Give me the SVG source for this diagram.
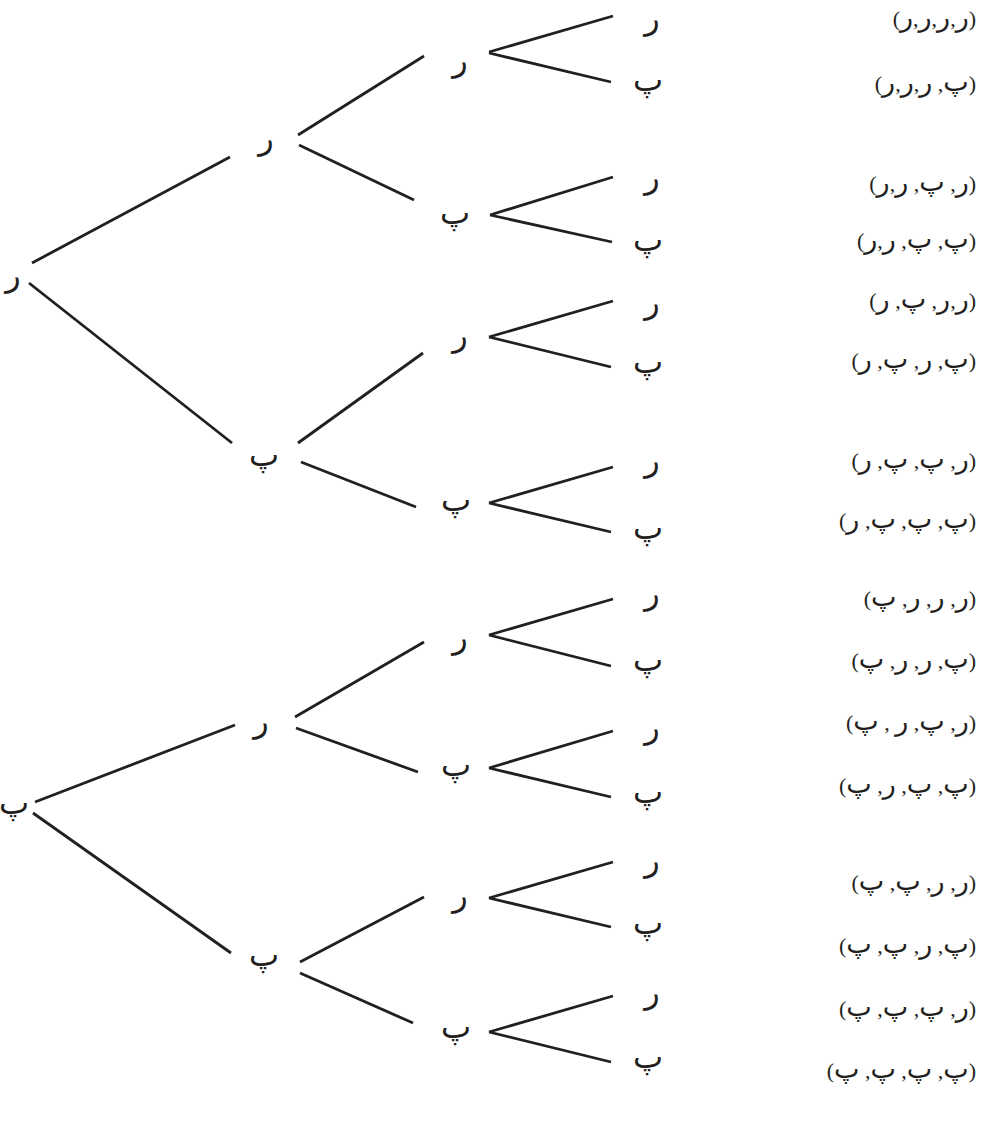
<svg xmlns="http://www.w3.org/2000/svg" width="984" height="1134" viewBox="0 0 984 1134">
<style>
.bg{fill:#ffffff}
.edge{stroke:#231f20;stroke-width:2.8;stroke-linecap:butt;fill:none}
.lbl{font-family:"DejaVu Sans",sans-serif;font-size:32px;fill:#231f20;text-anchor:middle}
.tup{font-family:"Liberation Serif","DejaVu Sans",serif;font-size:22px;fill:#231f20;text-anchor:end}
.a{font-family:"DejaVu Sans",sans-serif;font-size:27px}
</style>
<rect class="bg" x="0" y="0" width="984" height="1134"/>
<g id="connectors">
<line class="edge" x1="32" y1="263" x2="230" y2="157"/>
<line class="edge" x1="29" y1="283" x2="232" y2="443"/>
<line class="edge" x1="298" y1="135" x2="424" y2="56"/>
<line class="edge" x1="299" y1="145" x2="414" y2="200"/>
<line class="edge" x1="298" y1="443" x2="423" y2="353"/>
<line class="edge" x1="301" y1="462" x2="416" y2="507"/>
<line class="edge" x1="489" y1="52" x2="613" y2="16"/>
<line class="edge" x1="489" y1="53" x2="611" y2="82"/>
<line class="edge" x1="490" y1="215" x2="613" y2="177"/>
<line class="edge" x1="490" y1="215" x2="612" y2="242"/>
<line class="edge" x1="489" y1="337" x2="613" y2="301"/>
<line class="edge" x1="489" y1="337" x2="611" y2="367"/>
<line class="edge" x1="489" y1="503" x2="613" y2="467"/>
<line class="edge" x1="489" y1="503" x2="611" y2="532"/>
<line class="edge" x1="35" y1="802" x2="235" y2="725"/>
<line class="edge" x1="33" y1="813" x2="231" y2="953"/>
<line class="edge" x1="295" y1="717" x2="424" y2="642"/>
<line class="edge" x1="296" y1="728" x2="418" y2="772"/>
<line class="edge" x1="489" y1="635" x2="613" y2="599"/>
<line class="edge" x1="489" y1="635" x2="611" y2="666"/>
<line class="edge" x1="489" y1="768" x2="613" y2="731"/>
<line class="edge" x1="489" y1="768" x2="611" y2="797"/>
<line class="edge" x1="300" y1="962" x2="424" y2="897"/>
<line class="edge" x1="300" y1="973" x2="413" y2="1023"/>
<line class="edge" x1="489" y1="898" x2="613" y2="862"/>
<line class="edge" x1="489" y1="898" x2="611" y2="927"/>
<line class="edge" x1="489" y1="1032" x2="613" y2="996"/>
<line class="edge" x1="489" y1="1032" x2="611" y2="1062"/>
</g>
<g id="root-r"><text class="lbl" x="13" y="286">ر</text></g>
<g id="root-p"><text class="lbl" x="14" y="814">پ</text></g>
<g id="n-r"><text class="lbl" x="266" y="149">ر</text></g>
<g id="n-p"><text class="lbl" x="264" y="466">پ</text></g>
<g id="n-pr"><text class="lbl" x="261" y="732">ر</text></g>
<g id="n-pp"><text class="lbl" x="264" y="966">پ</text></g>
<g id="n-rr"><text class="lbl" x="460" y="71">ر</text></g>
<g id="n-rp"><text class="lbl" x="455" y="224">پ</text></g>
<g id="n-pr2"><text class="lbl" x="460" y="346">ر</text></g>
<g id="n-pp2"><text class="lbl" x="456" y="511">پ</text></g>
<g id="n-prr"><text class="lbl" x="460" y="648">ر</text></g>
<g id="n-prp"><text class="lbl" x="456" y="776">پ</text></g>
<g id="n-ppr"><text class="lbl" x="460" y="906">ر</text></g>
<g id="n-ppp"><text class="lbl" x="456" y="1038">پ</text></g>
<g id="leaf-1"><text class="lbl" x="652" y="29">ر</text></g>
<g id="leaf-2"><text class="lbl" x="648" y="91">پ</text></g>
<g id="leaf-3"><text class="lbl" x="652" y="188">ر</text></g>
<g id="leaf-4"><text class="lbl" x="648" y="251">پ</text></g>
<g id="leaf-5"><text class="lbl" x="652" y="313">ر</text></g>
<g id="leaf-6"><text class="lbl" x="648" y="373">پ</text></g>
<g id="leaf-7"><text class="lbl" x="652" y="471">ر</text></g>
<g id="leaf-8"><text class="lbl" x="648" y="539">پ</text></g>
<g id="leaf-9"><text class="lbl" x="652" y="604">ر</text></g>
<g id="leaf-10"><text class="lbl" x="648" y="671">پ</text></g>
<g id="leaf-11"><text class="lbl" x="652" y="738">ر</text></g>
<g id="leaf-12"><text class="lbl" x="648" y="803">پ</text></g>
<g id="leaf-13"><text class="lbl" x="652" y="871">ر</text></g>
<g id="leaf-14"><text class="lbl" x="648" y="934">پ</text></g>
<g id="leaf-15"><text class="lbl" x="652" y="1003">ر</text></g>
<g id="leaf-16"><text class="lbl" x="648" y="1068">پ</text></g>
<g id="outcomes">
<text class="tup" x="976" y="26">(<tspan class="a">ر</tspan>,<tspan class="a">ر</tspan>,<tspan class="a">ر</tspan>,<tspan class="a">ر</tspan>)</text>
<text class="tup" x="976" y="91">(<tspan class="a">پ</tspan>, <tspan class="a">ر</tspan>,<tspan class="a">ر</tspan>,<tspan class="a">ر</tspan>)</text>
<text class="tup" x="976" y="191">(<tspan class="a">ر</tspan>, <tspan class="a">پ</tspan>, <tspan class="a">ر</tspan>,<tspan class="a">ر</tspan>)</text>
<text class="tup" x="976" y="248">(<tspan class="a">پ</tspan>, <tspan class="a">پ</tspan>, <tspan class="a">ر</tspan>,<tspan class="a">ر</tspan>)</text>
<text class="tup" x="976" y="308">(<tspan class="a">ر</tspan>,<tspan class="a">ر</tspan>, <tspan class="a">پ</tspan>, <tspan class="a">ر</tspan>)</text>
<text class="tup" x="976" y="368">(<tspan class="a">پ</tspan>, <tspan class="a">ر</tspan>, <tspan class="a">پ</tspan>, <tspan class="a">ر</tspan>)</text>
<text class="tup" x="976" y="468">(<tspan class="a">ر</tspan>, <tspan class="a">پ</tspan>, <tspan class="a">پ</tspan>, <tspan class="a">ر</tspan>)</text>
<text class="tup" x="976" y="528">(<tspan class="a">پ</tspan>, <tspan class="a">پ</tspan>, <tspan class="a">پ</tspan>, <tspan class="a">ر</tspan>)</text>
<text class="tup" x="976" y="606">(<tspan class="a">ر</tspan>, <tspan class="a">ر</tspan>, <tspan class="a">ر</tspan>, <tspan class="a">پ</tspan>)</text>
<text class="tup" x="976" y="668">(<tspan class="a">پ</tspan>, <tspan class="a">ر</tspan>, <tspan class="a">ر</tspan>, <tspan class="a">پ</tspan>)</text>
<text class="tup" x="976" y="730">(<tspan class="a">ر</tspan>, <tspan class="a">پ</tspan>, <tspan class="a">ر</tspan> , <tspan class="a">پ</tspan>)</text>
<text class="tup" x="976" y="793">(<tspan class="a">پ</tspan>, <tspan class="a">پ</tspan>, <tspan class="a">ر</tspan>, <tspan class="a">پ</tspan>)</text>
<text class="tup" x="976" y="890">(<tspan class="a">ر</tspan>, <tspan class="a">ر</tspan>, <tspan class="a">پ</tspan>, <tspan class="a">پ</tspan>)</text>
<text class="tup" x="976" y="953">(<tspan class="a">پ</tspan>, <tspan class="a">ر</tspan>, <tspan class="a">پ</tspan>, <tspan class="a">پ</tspan>)</text>
<text class="tup" x="976" y="1016">(<tspan class="a">ر</tspan>, <tspan class="a">پ</tspan>, <tspan class="a">پ</tspan>, <tspan class="a">پ</tspan>)</text>
<text class="tup" x="976" y="1078">(<tspan class="a">پ</tspan>, <tspan class="a">پ</tspan>, <tspan class="a">پ</tspan>, <tspan class="a">پ</tspan>)</text>
</g>
</svg>
